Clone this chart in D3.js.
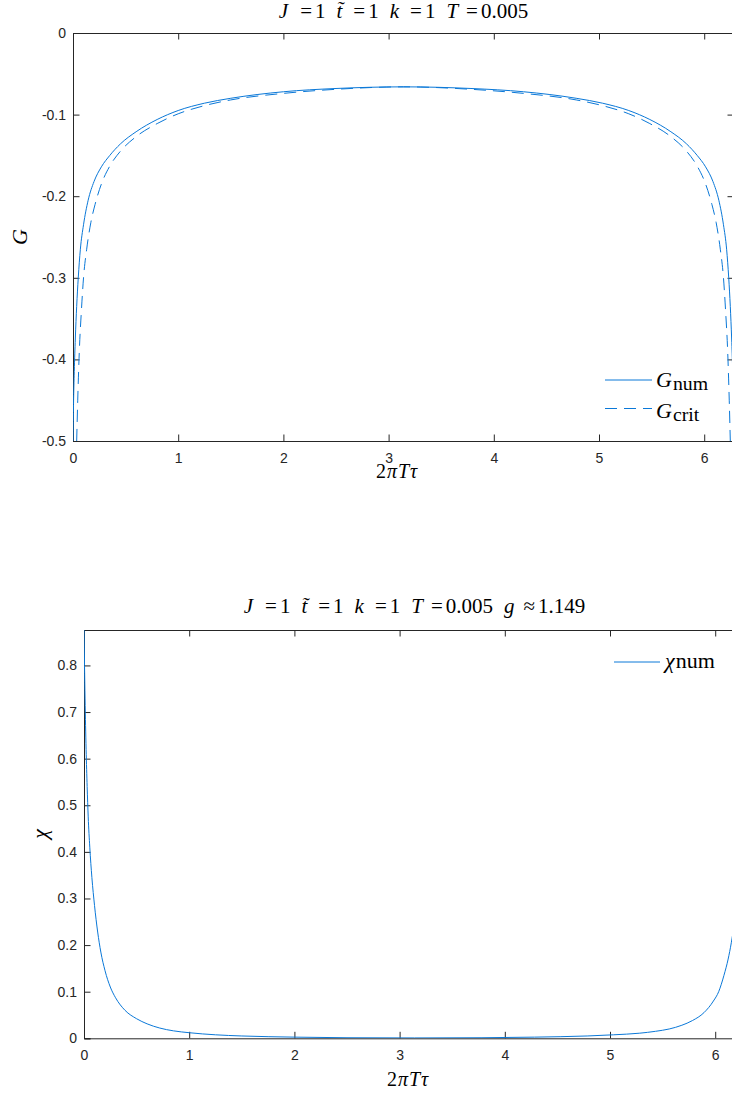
<!DOCTYPE html>
<html>
<head>
<meta charset="utf-8">
<script src="https://d3js.org/d3.v7.min.js"></script>
<style>
  body { margin: 0; background: #fff; }
  svg { display: block; }
  .tick text { font-family: "Liberation Sans", Arial, sans-serif; font-size: 14px; fill: #262626; }
  .math { font-family: "Liberation Serif", "DejaVu Serif", serif; fill: #000; }
</style>
</head>
<body>
<svg id="fig" width="732" height="1093"></svg>
<script>
// top panel: G vs 2πTτ
const gNumTheta = [0, 0.005, 0.012, 0.022, 0.035, 0.05, 0.07, 0.1, 0.144, 0.2, 0.27, 0.35, 0.45, 0.6, 0.8, 1.0, 1.25, 1.5, 2.0, 2.5, 3.1416,
  3.783, 4.283, 4.783, 5.033, 5.283, 5.483, 5.683, 5.833, 5.933, 6.013, 6.083, 6.139, 6.183, 6.213, 6.233, 6.248, 6.261, 6.271, 6.278, 6.2832];
const gNum = [-0.5, -0.455, -0.415, -0.375, -0.335, -0.30, -0.265, -0.235, -0.205, -0.182, -0.164, -0.15, -0.136, -0.121, -0.106, -0.095, -0.086, -0.080, -0.072, -0.068, -0.066,
  -0.068, -0.072, -0.080, -0.086, -0.095, -0.106, -0.121, -0.136, -0.15, -0.164, -0.182, -0.205, -0.235, -0.265, -0.30, -0.335, -0.375, -0.415, -0.455, -0.5];

const gCritTheta = [0.035, 0.045, 0.06, 0.08, 0.1, 0.13, 0.17, 0.21, 0.27, 0.35, 0.45, 0.6, 0.8, 1.0, 1.25, 1.5, 2.0, 2.5, 3.1416,
  3.783, 4.283, 4.783, 5.033, 5.283, 5.483, 5.683, 5.833, 5.933, 6.013, 6.073, 6.113, 6.153, 6.183, 6.203, 6.223, 6.238, 6.248];
const gCrit = [-0.5, -0.45, -0.39, -0.34, -0.30, -0.265, -0.232, -0.21, -0.185, -0.163, -0.145, -0.127, -0.111, -0.099, -0.089, -0.082, -0.074, -0.069, -0.066,
  -0.069, -0.074, -0.082, -0.089, -0.099, -0.111, -0.127, -0.145, -0.163, -0.185, -0.21, -0.232, -0.265, -0.30, -0.34, -0.39, -0.45, -0.5];

// bottom panel: χ vs 2πTτ
const chiTheta = [0, 0.005, 0.01, 0.02, 0.03, 0.04, 0.055, 0.075, 0.1, 0.13, 0.16, 0.2, 0.25, 0.3, 0.39, 0.5, 0.6, 0.72, 0.85, 1.0, 1.25, 1.5, 2.0, 2.5, 3.1416,
  3.783, 4.283, 4.783, 5.033, 5.283, 5.433, 5.563, 5.683, 5.783, 5.893, 5.983, 6.033, 6.083, 6.123, 6.153, 6.183, 6.208, 6.228, 6.243, 6.253, 6.263, 6.273, 6.278, 6.2832];
const chi = [0.876, 0.80, 0.73, 0.62, 0.54, 0.475, 0.41, 0.345, 0.285, 0.228, 0.185, 0.145, 0.11, 0.087, 0.06, 0.042, 0.031, 0.022, 0.016, 0.012, 0.0075, 0.005, 0.0025, 0.0012, 0.0008,
  0.0012, 0.0025, 0.005, 0.0075, 0.011, 0.015, 0.02, 0.028, 0.038, 0.055, 0.08, 0.10, 0.135, 0.17, 0.205, 0.25, 0.305, 0.37, 0.43, 0.50, 0.58, 0.69, 0.77, 0.876];

const xTicks = [0, 1, 2, 3, 4, 5, 6];
const gTicks = [0, -0.1, -0.2, -0.3, -0.4, -0.5];
const chiTicks = [0, 0.1, 0.2, 0.3, 0.4, 0.5, 0.6, 0.7, 0.8];

// title tokens: [text, style, gap before]
const title1 = [["J", "i", 0], ["=", "r", 12], ["1", "r", 3], ["t̃", "i", 11], ["=", "r", 11], ["1", "r", 3],
  ["k", "i", 11], ["=", "r", 11], ["1", "r", 3], ["T", "i", 11], ["=", "r", 8], ["0.005", "r", 3]];
const title2 = title1.concat([["g", "i", 11], ["≈", "r", 9], ["1.149", "r", 3]]);

const blue = "#0a78d8";
const axisCol = "#262626";
const svg = d3.select("#fig");
svg.append("rect").attr("width", 732).attr("height", 1093).attr("fill", "#fff");

// math text helper: parts = [[text, style, gap]] style: i italic, r roman, s subscript
function mathText(g, x, y, size, parts, anchor) {
  const t = g.append("text").attr("class", "math").attr("x", x).attr("y", y)
    .attr("font-size", size);
  parts.forEach(p => {
    const s = t.append("tspan").text(p[0]);
    if (p[2]) s.attr("dx", p[2]);
    if (p[1] === "i") s.attr("font-style", "italic");
    if (p[1] === "s") { s.attr("font-size", size * 0.9).attr("dy", 3); }
  });
  if (anchor === "middle") {
    const b = t.node().getBBox();
    t.attr("x", x - (b.x - x) - b.width / 2);
  }
  return t;
}

function panel(opt) {
  const x = d3.scaleLinear().domain([0, 2 * Math.PI]).range([opt.left, opt.left + 661]);
  const y = d3.scaleLinear().domain(opt.ydom).range([opt.bottom, opt.top]);
  const g = svg.append("g");

  // axes with inward ticks, box on
  g.append("g").attr("transform", `translate(0,${opt.bottom})`)
    .call(d3.axisBottom(x).tickValues(xTicks).tickSize(-6.5).tickPadding(12).tickFormat(d3.format("d")));
  g.append("g").attr("transform", `translate(0,${opt.top})`)
    .call(d3.axisTop(x).tickValues(xTicks).tickSize(-6.5).tickFormat(""));
  g.append("g").attr("transform", `translate(${opt.left},0)`)
    .call(d3.axisLeft(y).tickValues(opt.yticks).tickSize(-6.5).tickPadding(7).tickFormat(d => d === 0 ? "0" : d3.format(".1f")(d).replace("−", "-")));
  g.append("g").attr("transform", `translate(${opt.left + 661},0)`)
    .call(d3.axisRight(y).tickValues(opt.yticks).tickSize(-6.5).tickFormat(""));
  g.selectAll(".domain").attr("stroke", axisCol).attr("stroke-width", 1);
  g.selectAll(".tick line").attr("stroke", axisCol);
  g.selectAll(".tick text").attr("fill", axisCol);

  const clipId = "clip" + Math.round(opt.top);
  svg.append("clipPath").attr("id", clipId).append("rect")
    .attr("x", opt.left).attr("y", opt.top).attr("width", 661).attr("height", opt.bottom - opt.top);

  const line = d3.line().x(d => x(d[0])).y(d => y(d[1])).curve(d3.curveMonotoneX);
  opt.series.forEach(s => {
    g.append("path").attr("d", line(d3.zip(s.theta, s.vals)))
      .attr("fill", "none").attr("stroke", blue).attr("stroke-width", 1)
      .attr("stroke-dasharray", s.dash || null).attr("clip-path", `url(#${clipId})`);
  });

  // x label
  mathText(g, opt.left + 324, opt.xlabelY, 20, [["2", "r"], ["π", "i", 1], ["T", "i", 1], ["τ", "i", 1]], "middle");
  return { g, x, y };
}

// top panel
const topPanel = panel({ left: 73, top: 33, bottom: 441, xlabelY: 478, ydom: [-0.5, 0], yticks: gTicks,
  series: [{ theta: gNumTheta, vals: gNum }, { theta: gCritTheta, vals: gCrit, dash: "12,7" }] });
mathText(svg, 403.5, 17.5, 21, title1, "middle");
svg.append("text").attr("class", "math").attr("font-style", "italic").attr("font-size", 22)
  .attr("transform", "translate(27,237) rotate(-90)").attr("text-anchor", "middle").text("G");
// legend
svg.append("line").attr("x1", 605).attr("x2", 652).attr("y1", 380).attr("y2", 380).attr("stroke", blue);
svg.append("line").attr("x1", 605).attr("x2", 652).attr("y1", 408.5).attr("y2", 408.5).attr("stroke", blue).attr("stroke-dasharray", "12,7");
mathText(svg, 656, 387, 22, [["G", "i"], ["num", "s", 1]]);
mathText(svg, 656, 418, 22, [["G", "i"], ["crit", "s", 1]]);

// bottom panel
const bottomPanel = panel({ left: 84, top: 630, bottom: 1038.3, xlabelY: 1086, ydom: [0, 0.876], yticks: chiTicks,
  series: [{ theta: chiTheta, vals: chi }] });
mathText(svg, 414.5, 613, 21, title2, "middle");
svg.append("text").attr("class", "math").attr("font-style", "italic").attr("font-size", 22)
  .attr("transform", "translate(47,834) rotate(-90)").attr("text-anchor", "middle").text("χ");
svg.append("line").attr("x1", 614).attr("x2", 660).attr("y1", 662).attr("y2", 662).attr("stroke", blue);
mathText(svg, 665, 668, 22, [["χ", "i"], ["num", "r", 1]]);
</script>
</body>
</html>
